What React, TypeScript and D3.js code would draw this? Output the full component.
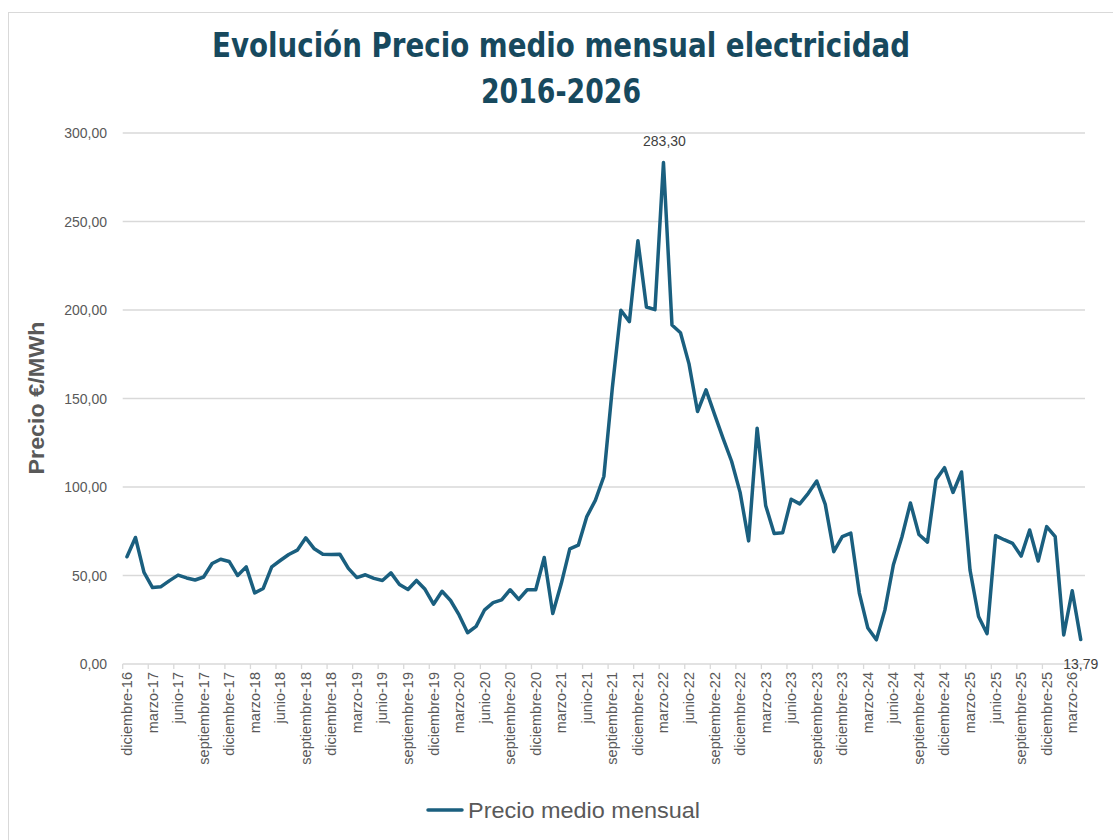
import React from "react";
import * as d3 from "d3";

const MONTHS = ["enero","febrero","marzo","abril","mayo","junio","julio","agosto","septiembre","octubre","noviembre","diciembre"];

// Monthly categories from diciembre-16 to abril-26
const categories: string[] = (() => {
  const out: string[] = ["diciembre-16"];
  for (let y = 17; y <= 26; y++) {
    for (let m = 0; m < 12; m++) {
      if (y === 26 && m > 3) break;
      out.push(`${MONTHS[m]}-${y}`);
    }
  }
  return out;
})();

const values2016 = [60.57];
const values2017 = [71.49, 51.74, 43.19, 43.69, 47.11, 50.22, 48.63, 47.46, 49.15, 56.77, 59.19, 57.94];
const values2018 = [49.98, 54.88, 40.18, 42.67, 54.92, 58.46, 61.88, 64.33, 71.27, 65.08, 61.97, 61.81];
const values2019 = [61.99, 54.01, 48.82, 50.41, 48.39, 47.19, 51.46, 44.96, 42.11, 47.19, 42.19, 33.8];
const values2020 = [41.1, 35.87, 27.74, 17.65, 21.26, 30.62, 34.64, 36.2, 41.96, 36.54, 41.94, 41.97];
const values2021 = [60.17, 28.49, 45.45, 65.02, 67.12, 83.3, 92.42, 105.94, 156.14, 199.9, 193.43, 239.16];
const values2022 = [201.72, 200.22, 283.3, 191.52, 187.13, 169.57, 142.66, 154.89, 141.07, 127.51, 114.54, 96.95];
const values2023 = [69.56, 133.26, 89.6, 73.69, 74.21, 93.11, 90.47, 96.44, 103.39, 90.15, 63.46, 71.98];
const values2024 = [73.94, 40.07, 20.31, 13.67, 30.43, 56.07, 71.76, 91.01, 73.13, 68.83, 104.1, 110.93];
const values2025 = [96.91, 108.48, 53.03, 26.81, 17.13, 72.53, 70.22, 68.15, 60.96, 75.72, 58.2, 77.6];
const values2026 = [71.9, 16.4, 41.4, 13.79];

const values: number[] = [
  ...values2016, ...values2017, ...values2018, ...values2019, ...values2020,
  ...values2021, ...values2022, ...values2023, ...values2024, ...values2025, ...values2026,
];

const yTicks = [0, 50, 100, 150, 200, 250, 300];

const fmt = (v: number) => v.toFixed(2).replace(".", ",");

export default function App() {
  const W = 1113, H = 840;
  const left = 122.7, right = 1085, top = 133, bottom = 664;
  const x = d3.scaleBand<number>().domain(values.map((_, i) => i)).range([left, right]).padding(0);
  const bw = x.bandwidth();
  const cx = (i: number) => (x(i) as number) + bw / 2;
  const y = d3.scaleLinear().domain([0, 300]).range([bottom, top]);
  const line = d3.line<number>().x((_, i) => cx(i)).y((d) => y(d));

  const maxI = values.indexOf(d3.max(values) as number);
  const lastI = values.length - 1;
  const tickIdx = d3.range(0, values.length, 3);
  const axisFont = "'Liberation Sans', Arial, sans-serif";
  const titleFont = "'DejaVu Sans Condensed', 'Liberation Sans Narrow', sans-serif";
  const textColor = "#595959";

  return (
    <svg width={W} height={H} style={{ position: "absolute", left: 0, top: 0, background: "#fff" }}>
      <rect x={8.5} y={12.5} width={W + 20} height={H + 20} fill="#fff" stroke="#d9d9d9" strokeWidth={1} />
      <text x={561} y={57} textAnchor="middle" fontFamily={titleFont} fontWeight="bold" fontSize={34} fill="#17495e" textLength={698} lengthAdjust="spacingAndGlyphs">
        Evolución Precio medio mensual electricidad
      </text>
      <text x={561} y={103} textAnchor="middle" fontFamily={titleFont} fontWeight="bold" fontSize={34} fill="#17495e" textLength={160} lengthAdjust="spacingAndGlyphs">
        2016-2026
      </text>

      {yTicks.map((t) => (
        <g key={t}>
          {t > 0 && <line x1={left} x2={right} y1={y(t)} y2={y(t)} stroke="#d9d9d9" strokeWidth={1.3} />}
          <text x={107} y={y(t) + 5} textAnchor="end" fontFamily={axisFont} fontSize={14} fill={textColor}>{fmt(t)}</text>
        </g>
      ))}

      <line x1={left} x2={right} y1={bottom} y2={bottom} stroke="#d9d9d9" strokeWidth={1.3} />
      {tickIdx.map((i) => (
        <line key={"t" + i} x1={x(i) as number} x2={x(i) as number} y1={bottom} y2={bottom + 5} stroke="#d9d9d9" strokeWidth={1.3} />
      ))}
      {tickIdx.map((i) => (
        <text key={"l" + i} transform={`translate(${cx(i) + 5},${bottom + 8}) rotate(-90)`} textAnchor="end" fontFamily={axisFont} fontSize={14.5} fill={textColor}>
          {categories[i]}
        </text>
      ))}

      <text transform="translate(44,398) rotate(-90)" textAnchor="middle" fontFamily={axisFont} fontWeight="bold" fontSize={22} fill={textColor} textLength={153} lengthAdjust="spacingAndGlyphs">
        Precio €/MWh
      </text>

      <path d={line(values) || ""} fill="none" stroke="#1a5f7f" strokeWidth={3.5} strokeLinejoin="round" strokeLinecap="round" />

      <text x={cx(maxI) + 1} y={y(values[maxI]) - 17} textAnchor="middle" fontFamily={axisFont} fontSize={14} fill="#404040">{fmt(values[maxI])}</text>
      <text x={cx(lastI)} y={y(values[lastI]) + 29} textAnchor="middle" fontFamily={axisFont} fontSize={14} fill="#404040">{fmt(values[lastI])}</text>

      <line x1={428} x2={462} y1={810} y2={810} stroke="#1a5f7f" strokeWidth={3.5} strokeLinecap="round" />
      <text x={468} y={818} fontFamily={axisFont} fontSize={22} fill={textColor} textLength={232} lengthAdjust="spacingAndGlyphs">Precio medio mensual</text>
    </svg>
  );
}
